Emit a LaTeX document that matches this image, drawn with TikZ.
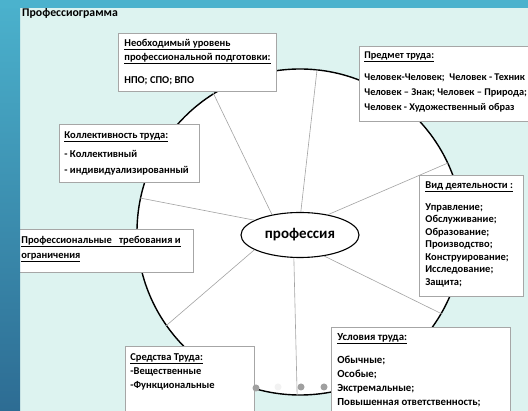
\documentclass[tikz,border=0pt]{standalone}
\usepackage{fontspec}
\setmainfont{Carlito}
\usetikzlibrary{shapes.geometric}

\definecolor{slidecyan}{HTML}{DDF3F0}
\definecolor{stripblue}{HTML}{4BB2CD}
\definecolor{stripdark}{HTML}{2D6C93}
\definecolor{boxgray}{HTML}{A6A6A6}
\definecolor{spokegray}{HTML}{A3A3A3}
\definecolor{dotgray}{HTML}{A0A0A0}
\definecolor{dotlight}{HTML}{F2F2F2}

\newcommand{\boxfont}{\fontsize{10.5}{14}\selectfont\bfseries}

\begin{document}
\begin{tikzpicture}[x=1pt,y=1pt]
\tikzstyle{every node}+=[inner sep=0pt]
\tikzstyle{infobox}=[draw=boxgray, fill=white, line width=0.8pt, anchor=north west, inner xsep=5pt, font=\boxfont]
\tikzstyle{spoke}=[spokegray, line width=0.6pt]
\useasboundingbox (0,0) rectangle (528,-411);
\clip (0,0) rectangle (528,-411);
\fill [slidecyan] (0,0) rectangle (528,-411);
\node [anchor=base west, font=\fontsize{11.8}{13}\selectfont\bfseries] (title) at (22,-17) {Профессиограмма};
% wheel and centre
\node [circle, draw=black, fill=white, line width=1.4pt, minimum size=326pt] (wheel) at (300,-232) {};
\node [ellipse, draw=black, line width=1.1pt, minimum width=118pt, minimum height=45pt, font=\fontsize{15}{18}\selectfont\bfseries] (prof) at (300,-235) {профессия};
\draw [spoke] (prof.144) -- (wheel.122);
\draw [spoke] (prof.88) -- (wheel.84);
\draw [spoke] (prof.36) -- (wheel.25);
\draw [spoke] (prof.162) -- (wheel.168);
\draw [spoke] (prof.198) -- (wheel.215);
\draw [spoke] (prof.255) -- (wheel.269);
\draw [spoke] (prof.319) -- (wheel.330);
% boxes
\node [infobox, inner xsep=6pt] (need) at (118,-33) {\parbox[t][58pt][t]{146pt}{\rule{0pt}{13pt}\underline{Необходимый уровень}\\
\underline{профессиональной подготовки:}\\[9pt]
НПО; СПО; ВПО}};
\node [infobox] (subject) at (359,-46) {\parbox[t][75pt][t]{220pt}{\fontsize{10.3}{15}\selectfont\rule{0pt}{12pt}\underline{Предмет труда:}\\[7pt]
Человек-Человек;\ \ Человек - Техник\\
Человек – Знак; Человек – Природа;\\
\ Человек - Художественный образ}};
\node [infobox] (collective) at (59,-124) {\parbox[t][58pt][t]{130pt}{\rule{0pt}{14pt}\underline{Коллективность труда:}\\[5pt]
- Коллективный\\[2pt]
- индивидуализированный}};
\node [infobox, inner xsep=1pt] (limits) at (12,-229) {\parbox[t][43pt][t]{179pt}{\rule{0pt}{14pt}\hspace{8pt}\underline{Профессиональные\ \ \ требования и}\\[1pt]
\hspace*{8pt}\underline{ограничения}}};
\node [infobox] (means) at (125,-346) {\parbox[t][90pt][t]{119pt}{\rule{0pt}{14pt}\underline{Средства Труда:}\\
-Вещественные\\
-Функциональные}};
\node [infobox, inner xsep=6pt] (activity) at (419,-175) {\parbox[t][121pt][t]{92pt}{\fontsize{10.5}{12.5}\selectfont\rule{0pt}{13pt}\underline{Вид деятельности :}\\[9.5pt]
Управление;\\
Обслуживание;\\
Образование;\\
Производство;\\
Конструирование;\\
Исследование;\\
Защита;}};
\node [infobox, inner xsep=6pt] (conditions) at (331,-327) {\parbox[t][100pt][t]{167pt}{\fontsize{10.8}{14}\selectfont\rule{0pt}{13pt}\underline{Условия труда:}\\[9pt]
Обычные;\\
Особые;\\
Экстремальные;\\
Повышенная ответственность;}};
% slide dots
\fill [dotgray] (256,-388) circle (3.5);
\fill [dotlight] (278,-387) circle (3.5);
\fill [dotgray] (301,-387) circle (3.5);
\fill [dotgray] (324,-387) circle (3.5);
% slide strips
\shade [top color=stripblue, bottom color=stripdark] (0,0) rectangle (20,-411);
\fill [stripblue] (0,0) rectangle (528,-8);
\end{tikzpicture}
\end{document}
